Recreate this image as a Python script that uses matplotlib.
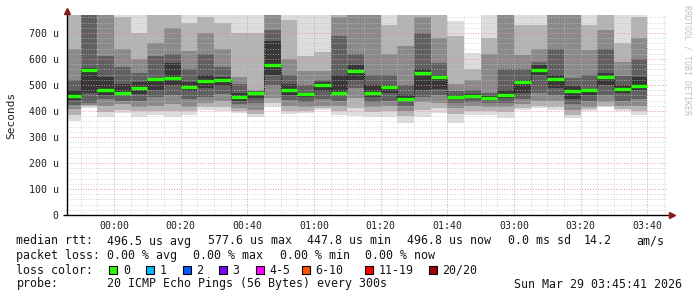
import numpy as np
import matplotlib
matplotlib.use("Agg")
import matplotlib.pyplot as plt
from matplotlib.patches import Rectangle

plt.rcParams['font.family'] = ['DejaVu Sans Mono']

# 5-minute buckets, minutes relative to 00:00 (DST jump 02:00 -> 03:00 in the labels)
bucket_start = np.arange(-15, 160, 5)

# sorted ping samples per bucket (us), 20 pings -> pairs of bands
p01 = [362, 412, 378, 392, 378, 385, 376, 385, 404, 398, 391, 376, 417, 388, 392, 404, 385, 381,
       375, 378, 353, 378, 393, 353, 385, 385, 373, 404, 411, 404, 373, 400, 415, 400, 385]
p03 = [385, 418, 395, 405, 400, 400, 400, 400, 415, 415, 400, 390, 430, 400, 400, 410, 400, 410,
       395, 400, 380, 405, 410, 390, 400, 400, 395, 410, 420, 415, 385, 408, 420, 408, 400]
p05 = [407, 424, 420, 425, 415, 420, 425, 415, 430, 440, 410, 405, 450, 420, 415, 420, 420, 450,
       415, 420, 400, 435, 430, 410, 420, 415, 415, 425, 440, 440, 405, 415, 435, 420, 420]
p07 = [423, 432, 445, 440, 440, 455, 460, 445, 455, 465, 425, 430, 500, 442, 435, 445, 440, 490,
       435, 440, 420, 455, 460, 430, 435, 430, 432, 445, 470, 460, 425, 440, 460, 440, 445]
p09 = [442, 470, 462, 460, 465, 481, 500, 476, 490, 495, 440, 450, 540, 462, 455, 475, 460, 520,
       455, 468, 440, 480, 485, 445, 450, 446, 450, 470, 540, 490, 445, 462, 500, 470, 480]
p12 = [482, 565, 530, 505, 510, 528, 585, 510, 540, 530, 470, 471, 670, 505, 470, 510, 540, 575,
       500, 500, 460, 560, 540, 462, 465, 458, 480, 518, 575, 540, 495, 485, 545, 500, 530]
p14 = [520, 800, 610, 570, 545, 610, 620, 560, 620, 570, 505, 475, 712, 540, 500, 520, 690, 620,
       540, 540, 500, 700, 585, 475, 480, 470, 560, 560, 590, 640, 525, 540, 640, 535, 600]
p16 = [640, 800, 800, 640, 600, 660, 720, 630, 700, 640, 530, 480, 800, 600, 555, 555, 760, 800,
       780, 620, 650, 760, 680, 505, 520, 620, 800, 615, 640, 800, 800, 635, 710, 590, 680]
p18 = [800, 800, 800, 760, 700, 800, 780, 740, 760, 740, 700, 700, 800, 750, 610, 625, 800, 800,
       800, 730, 800, 800, 780, 690, 560, 680, 800, 730, 730, 800, 800, 730, 800, 660, 760]
p20 = [800, 800, 800, 800, 800, 800, 800, 800, 800, 800, 800, 800, 800, 800, 800, 800, 800, 800,
       800, 800, 800, 800, 800, 745, 622, 800, 800, 800, 800, 800, 800, 800, 800, 800, 800]
median = [459, 558, 481, 469, 487, 523, 526, 491, 514, 518, 452, 468, 578, 480, 465, 499, 470, 555,
          470, 492, 447, 545, 530, 455, 458, 450, 463, 510, 558, 522, 476, 481, 530, 486, 496]

tick_min = [0, 20, 40, 60, 80, 100, 120, 140, 160]
tick_lab = ["00:00", "00:20", "00:40", "01:00", "01:20", "01:40", "03:00", "03:20", "03:40"]
y_ticks = [0, 100, 200, 300, 400, 500, 600, 700]
y_labs = ["0", "100 u", "200 u", "300 u", "400 u", "500 u", "600 u", "700 u"]

loss_labels = ["0", "1", "2", "3", "4-5", "6-10", "11-19", "20/20"]
loss_colors = ['#26ff00', '#00b8ff', '#0059ff', '#7e00ff', '#ff00ff', '#ff5500', '#ff0000', '#a10000']

W, H = 697, 297
fig = plt.figure(figsize=(W / 100, H / 100), dpi=100)
ax = fig.add_axes([67 / W, 82 / H, 600 / W, 200 / H])
ax.set_xlim(-14.1, 165.9)
ax.set_ylim(0, 769)

# smoke: outer band lightest, inner darkest
bands = [(p01, p20), (p03, p18), (p05, p16), (p07, p14), (p09, p12)]
grays = np.linspace(221, 55, len(bands))
for (lo, hi), g in zip(bands, grays):
    lo = np.array(lo); hi = np.array(hi)
    c = '#%02x%02x%02x' % (int(g), int(g), int(g))
    ax.bar(bucket_start, hi - lo, bottom=lo, width=5, align='edge', color=c,
           linewidth=0, antialiased=False, zorder=1)

# grid over the smoke (dotted)
for v in range(20, 769, 20):
    major = v % 100 == 0
    ax.axhline(v, color='#e89090' if major else '#c4c4c4', lw=0.72, ls=(0, (1, 1.6)),
               alpha=0.85 if major else 0.7, zorder=2)
for m in range(-10, 166, 5):
    major = m % 20 == 0
    ax.axvline(m, color='#e89090' if major else '#c4c4c4', lw=0.72, ls=(0, (1, 1.6)),
               alpha=0.85 if major else 0.7, zorder=2)

# median line
med = np.array(median)
ax.vlines(bucket_start[1:], med[:-1], med[1:], colors='#101010', lw=0.8,
          linestyles=(0, (1, 1)), zorder=3)
ax.hlines(med, bucket_start, bucket_start + 5, colors='#26ff00', lw=2.4, zorder=4)

for s in ax.spines.values():
    s.set_visible(False)
ax.plot([-0.006, 1.006], [0, 0], transform=ax.transAxes, color='black', lw=1,
        clip_on=False, zorder=5, solid_capstyle='butt')
ax.plot([0, 0], [0, 1.02], transform=ax.transAxes, color='black', lw=1,
        clip_on=False, zorder=5, solid_capstyle='butt')
ax.plot([1.009], [0], marker='>', ms=4, color='#8b1a1a', transform=ax.transAxes,
        clip_on=False, zorder=6)
ax.plot([0], [1.022], marker='^', ms=4, color='#8b1a1a', transform=ax.transAxes,
        clip_on=False, zorder=6)

ax.set_xticks(tick_min, tick_lab)
ax.set_yticks(y_ticks, y_labs)
ax.tick_params(axis='both', length=0, labelsize=7.1, labelcolor='#202020')
ax.tick_params(axis='y', pad=6)
ax.tick_params(axis='x', pad=4)
ax.set_ylabel("Seconds", fontsize=8, labelpad=9, color='#202020')

fig.text(687 / W, 1 - 60 / H, "RRDTOOL / TOBI OETIKER", rotation=-90, fontsize=6,
         color='#c0c0c0', ha='center', va='center')


def put(x, y, s, **kw):
    fig.text(x / W, 1 - y / H, s, ha='left', va='center', fontsize=8.4, color='#151515', **kw)


put(16.5, 241, "median rtt:")
put(107, 241, "496.5 us avg")
put(207.5, 241, "577.6 us max")
put(307, 241, "447.8 us min")
put(407, 241, "496.8 us now")
put(507.5, 241, "0.0 ms sd")
put(584, 241, "14.2")
put(636.5, 241, "am/s")

put(16.5, 255.5, "packet loss:")
put(107, 255.5, "0.00 % avg")
put(193.5, 255.5, "0.00 % max")
put(279.5, 255.5, "0.00 % min")
put(365, 255.5, "0.00 % now")

put(16.5, 270, "loss color:")
box_x = [109.3, 145.7, 182.7, 219, 255.7, 302, 365, 429]
for bx, lab, col in zip(box_x, loss_labels, loss_colors):
    fig.add_artist(Rectangle((bx / W, 1 - 274 / H), 8 / W, 8 / H, transform=fig.transFigure,
                             facecolor=col, edgecolor='black', lw=0.8))
    put(bx + 13.5, 270, lab)

put(16.5, 284, "probe:")
put(107, 284, "20 ICMP Echo Pings (56 Bytes) every 300s")
put(514, 284, "Sun Mar 29 03:45:41 2026")

fig.savefig("out.png", dpi=100, facecolor='white')
